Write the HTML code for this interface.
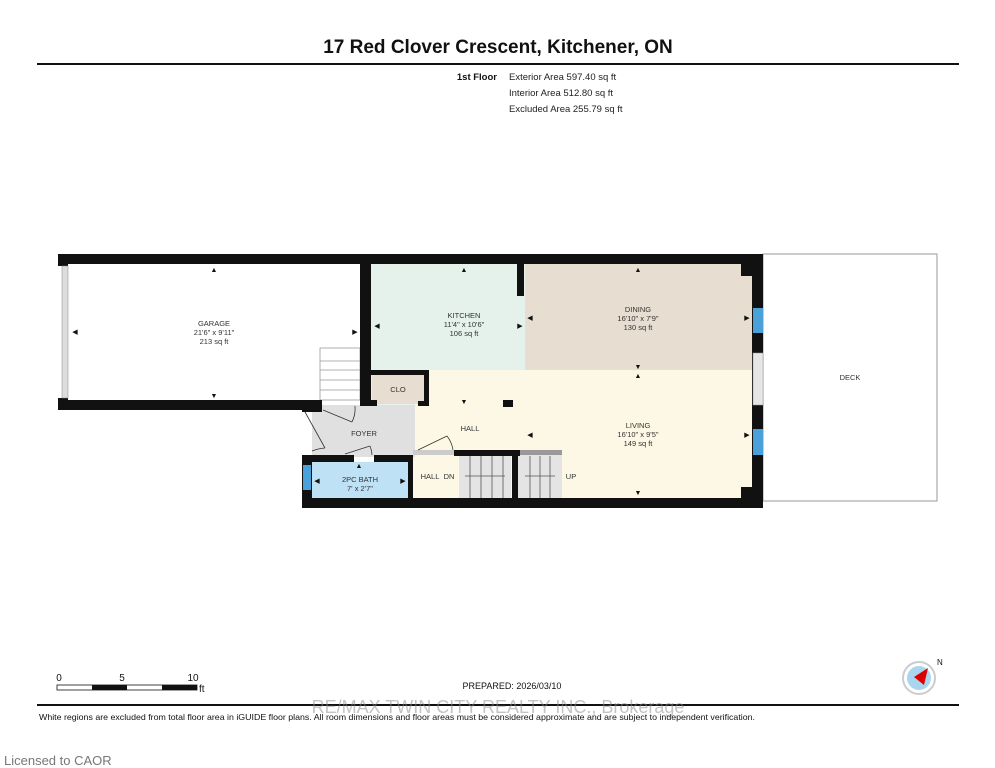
<!DOCTYPE html>
<html><head><meta charset="utf-8"><style>
body{margin:0;background:#fff;width:995px;height:768px;overflow:hidden;font-family:"Liberation Sans",Arial,sans-serif;}
svg{position:absolute;left:0;top:0}
</style></head><body>
<svg width="995" height="768" viewBox="0 0 995 768" xmlns="http://www.w3.org/2000/svg" font-family="Liberation Sans, Arial, sans-serif">
<text x="498" y="53" text-anchor="middle" font-size="19" font-weight="bold" fill="#111">17 Red Clover Crescent, Kitchener, ON</text>
<rect x="37" y="63" width="922" height="2" fill="#111"/>
<text x="497" y="80" text-anchor="end" font-size="9.5" font-weight="bold" fill="#111">1st Floor</text>
<text x="509" y="80" font-size="9.5" fill="#222">Exterior Area 597.40 sq ft</text>
<text x="509" y="96" font-size="9.5" fill="#222">Interior Area 512.80 sq ft</text>
<text x="509" y="112" font-size="9.5" fill="#222">Excluded Area 255.79 sq ft</text>

<rect x="763" y="254" width="174" height="247" fill="#fff" stroke="#999" stroke-width="1"/>

<rect x="68" y="264" width="292" height="136" fill="#fff"/>
<rect x="371" y="264" width="154" height="144" fill="#e5f2ec"/>
<rect x="525" y="264" width="228" height="106" fill="#e7ded1"/>
<rect x="415" y="370" width="338" height="130" fill="#fdf8e5"/>
<rect x="415" y="405" width="110" height="50" fill="#fdf8e5"/>
<rect x="312" y="405" width="103" height="52" fill="#e0e0e0"/>
<rect x="312" y="462" width="96" height="37" fill="#bfe1f5"/>
<rect x="413" y="457" width="48" height="42" fill="#fdf8e5"/>
<rect x="459" y="456" width="52" height="43" fill="#e4e4e4"/>
<rect x="518" y="455" width="44" height="44" fill="#e4e4e4"/>
<rect x="520" y="450" width="42" height="5" fill="#999"/>
<rect x="372" y="375" width="53" height="29" fill="#e7ded1"/>
<g stroke="#555" stroke-width="0.8">
<line x1="470" y1="456" x2="470" y2="498"/><line x1="481" y1="456" x2="481" y2="498"/><line x1="492" y1="456" x2="492" y2="498"/><line x1="503" y1="456" x2="503" y2="498"/>
<line x1="530" y1="456" x2="530" y2="498"/><line x1="540" y1="456" x2="540" y2="498"/><line x1="550" y1="456" x2="550" y2="498"/>
<line x1="465" y1="476" x2="505" y2="476"/><line x1="525" y1="476" x2="555" y2="476"/>
</g>
<rect x="320" y="348" width="40" height="52" fill="#fff" stroke="#999" stroke-width="0.8"/>
<g stroke="#999" stroke-width="0.8"><line x1="320" y1="361" x2="360" y2="361"/><line x1="320" y1="370" x2="360" y2="370"/><line x1="320" y1="380" x2="360" y2="380"/><line x1="320" y1="390" x2="360" y2="390"/></g>

<g fill="#111">
<rect x="58" y="254" width="705" height="10"/>
<rect x="58" y="254" width="10" height="12"/>
<rect x="58" y="398" width="10" height="12"/>
<rect x="58" y="400" width="262" height="10"/>
<rect x="302" y="400" width="20" height="12"/>
<rect x="360" y="254" width="11" height="152"/>
<rect x="360" y="400" width="17" height="6"/>
<rect x="366" y="370" width="63" height="5"/>
<rect x="424" y="370" width="5" height="36"/>
<rect x="418" y="401" width="11" height="5"/>
<rect x="517" y="264" width="7" height="32"/>
<rect x="503" y="400" width="10" height="7"/>
<rect x="752" y="254" width="11" height="254"/>
<rect x="741" y="264" width="12" height="12"/>
<rect x="741" y="487" width="12" height="12"/>
<rect x="302" y="498" width="461" height="10"/>
<rect x="302" y="455" width="10" height="53"/>
<rect x="302" y="455" width="52" height="7"/>
<rect x="374" y="455" width="38" height="7"/>
<rect x="408" y="455" width="5" height="44"/>
<rect x="454" y="450" width="66" height="6"/>
<rect x="512" y="450" width="6" height="49"/>
</g>
<rect x="62" y="266" width="6" height="132" fill="#ddd" stroke="#888" stroke-width="0.5"/>
<rect x="753" y="308" width="10" height="25" fill="#4aa0d8"/>
<rect x="753" y="429" width="10" height="26" fill="#4aa0d8"/>
<rect x="753" y="353" width="10" height="52" fill="#e6e6e6" stroke="#999" stroke-width="0.5"/>
<rect x="303" y="465" width="8" height="25" fill="#4aa0d8"/>
<rect x="413" y="450" width="41" height="5" fill="#ccc"/>
<g stroke="#333" stroke-width="0.8" fill="none">
<line x1="305" y1="412" x2="325" y2="448"/><path d="M325 448 A40 40 0 0 0 312 451"/>
<line x1="323" y1="410" x2="352" y2="422"/><path d="M352 422 A30 30 0 0 0 355 406"/>
<line x1="345" y1="454" x2="370" y2="446"/><path d="M370 446 A26 26 0 0 1 372 455"/>
<line x1="418" y1="450" x2="447" y2="436"/><path d="M447 436 A30 30 0 0 1 453 450"/>
</g>

<g font-size="7.5" fill="#333" text-anchor="middle">
<text x="214" y="326">GARAGE</text><text x="214" y="335">21'6" x 9'11"</text><text x="214" y="344">213 sq ft</text>
<text x="464" y="318">KITCHEN</text><text x="464" y="327">11'4" x 10'6"</text><text x="464" y="336">106 sq ft</text>
<text x="638" y="312">DINING</text><text x="638" y="321">16'10" x 7'9"</text><text x="638" y="330">130 sq ft</text>
<text x="638" y="428">LIVING</text><text x="638" y="437">16'10" x 9'5"</text><text x="638" y="446">149 sq ft</text>
<text x="398" y="392">CLO</text>
<text x="364" y="436">FOYER</text>
<text x="470" y="431">HALL</text>
<text x="360" y="482">2PC BATH</text><text x="360" y="491">7' x 2'7"</text>
<text x="430" y="479">HALL</text><text x="449" y="479">DN</text><text x="571" y="479">UP</text>
<text x="850" y="380">DECK</text>
</g>
<g font-size="7" fill="#111" text-anchor="middle">
<text x="214" y="272">▲</text><text x="214" y="398">▼</text><text x="75" y="334">◀</text><text x="355" y="334">▶</text>
<text x="464" y="272">▲</text><text x="464" y="404">▼</text><text x="377" y="328">◀</text><text x="520" y="328">▶</text>
<text x="638" y="272">▲</text><text x="638" y="369">▼</text><text x="530" y="320">◀</text><text x="747" y="320">▶</text>
<text x="638" y="378">▲</text><text x="638" y="495">▼</text><text x="530" y="437">◀</text><text x="747" y="437">▶</text>
<text x="359" y="468">▲</text><text x="317" y="483">◀</text><text x="403" y="483">▶</text>
</g>

<g font-size="10" fill="#111">
<text x="59" y="681" text-anchor="middle">0</text><text x="122" y="681" text-anchor="middle">5</text><text x="193" y="681" text-anchor="middle">10</text><text x="199" y="692">ft</text>
</g>
<rect x="57" y="685" width="140" height="5" fill="#fff" stroke="#111" stroke-width="0.8"/>
<rect x="92" y="685" width="35" height="5" fill="#111"/>
<rect x="162" y="685" width="35" height="5" fill="#111"/>
<text x="512" y="689" text-anchor="middle" font-size="9" fill="#111">PREPARED: 2026/03/10</text>
<circle cx="919" cy="678" r="16" fill="#fff" stroke="#ccc" stroke-width="2"/>
<circle cx="919" cy="678" r="12" fill="#a9d6ee"/>
<polygon points="928,668 914,677 924,685" fill="#d00"/>
<text x="937" y="665" font-size="8" fill="#111">N</text>
<rect x="37" y="704" width="922" height="2" fill="#111"/>
<text x="498" y="713" text-anchor="middle" font-size="18" fill="#888" fill-opacity="0.5">RE/MAX TWIN CITY REALTY INC., Brokerage</text>
<text x="39" y="720" font-size="8.5" fill="#111" textLength="716" lengthAdjust="spacingAndGlyphs">White regions are excluded from total floor area in iGUIDE floor plans. All room dimensions and floor areas must be considered approximate and are subject to independent verification.</text>
<text x="4" y="765" font-size="13" fill="#777">Licensed to CAOR</text>
</svg>
</body></html>
